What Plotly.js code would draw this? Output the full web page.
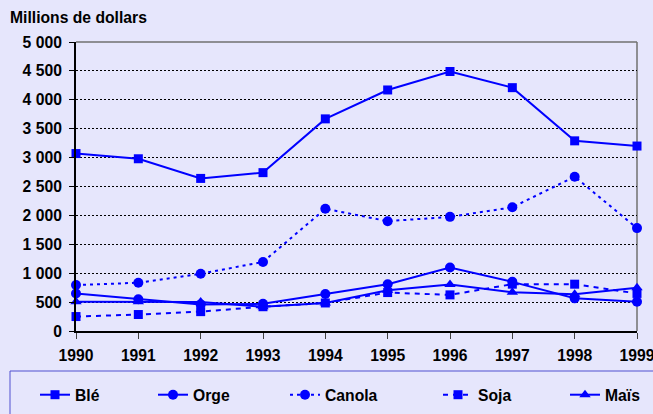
<!DOCTYPE html>
<html>
<head>
<meta charset="utf-8">
<script src="https://cdn.plot.ly/plotly-3.0.1.min.js"></script>
<style>html,body{margin:0;padding:0;background:#e6e6fc;overflow:hidden;width:653px;height:414px;}#chart{width:690px;height:414px;}</style>
</head>
<body>
<div id="chart"></div>
<script>
const years = [1990, 1991, 1992, 1993, 1994, 1995, 1996, 1997, 1998, 1999];
const ble    = [3070, 2980, 2640, 2740, 3670, 4170, 4490, 4210, 3290, 3200];
const orge   = [650, 550, 460, 470, 640, 810, 1100, 850, 565, 505];
const canola = [795, 835, 990, 1195, 2115, 1900, 1975, 2140, 2670, 1780];
const soja   = [250, 285, 335, 420, 485, 665, 625, 810, 810, 650];
const mais   = [505, 505, 500, 420, 485, 705, 805, 670, 635, 750];
const yTickVals = [0, 500, 1000, 1500, 2000, 2500, 3000, 3500, 4000, 4500, 5000];
const yTickText = ["0", "500", "1 000", "1 500", "2 000", "2 500", "3 000", "3 500", "4 000", "4 500", "5 000"];
const seriesNames = ["Blé", "Orge", "Canola", "Soja", "Maïs"];

const BLUE = "#0000ff";
const FONT = "Liberation Sans, Arial, sans-serif";

function tr(name, y, symbol, dash, size, legend) {
  return {
    x: years, y: y, name: name, type: "scatter", mode: "lines+markers",
    line: {color: BLUE, width: 2, dash: dash},
    marker: {color: BLUE, symbol: symbol, size: size},
    cliponaxis: false, legend: legend
  };
}
const data = [
  tr(seriesNames[0], ble, "square", "solid", 9, "legend2"),
  tr(seriesNames[1], orge, "circle", "solid", 10, "legend3"),
  tr(seriesNames[2], canola, "circle", "3px,4px", 10, "legend4"),
  tr(seriesNames[3], soja, "square", "5px,5px", 9, "legend5"),
  tr(seriesNames[4], mais, "triangle-up", "solid", 10, "legend6")
];

const FW = 690;
const W = 561, H = 289, L = 76, T = 42;
function px2x(p) { return (p - L) / W; }
function py2y(p) { return (T + H - p) / H; }
function leg(textX) {
  return {x: px2x(textX - 42), xanchor: "left", y: py2y(395), yanchor: "middle",
    orientation: "h", bgcolor: "rgba(0,0,0,0)", borderwidth: 0,
    font: {family: FONT, size: 15.7, color: "#000", weight: "bold"}};
}
const TF = {family: FONT, size: 15.7, color: "#000", weight: "bold"};

const layout = {
  width: FW, height: 414,
  margin: {l: L, r: FW - L - W, t: T, b: 414 - T - H, autoexpand: false},
  paper_bgcolor: "#e6e6fc", plot_bgcolor: "#e6e6fc",
  font: {family: FONT, size: 15, color: "#000"},
  title: {text: "Millions de dollars", xref: "container", yref: "container",
    x: 10 / FW, xanchor: "left", y: 1 - 18 / 414, yanchor: "middle", font: TF},
  xaxis: {range: [1990, 1999], tickvals: years, ticktext: years.map(String),
    ticks: "outside", ticklen: 6, tickcolor: "#404040", tickwidth: 1,
    ticklabelstandoff: 3,
    showline: true, linecolor: "#000", linewidth: 2, showgrid: false, zeroline: false,
    tickfont: TF},
  yaxis: {range: [0, 5000], tickvals: yTickVals, ticktext: yTickText,
    ticks: "outside", ticklen: 5, tickcolor: "#000", tickwidth: 1,
    ticklabelstandoff: 4,
    showline: true, linecolor: "#000", linewidth: 2,
    showgrid: true, gridcolor: "#000", gridwidth: 1, griddash: "2px,2px", zeroline: false,
    tickfont: TF},
  showlegend: true,
  legend2: leg(77), legend3: leg(195), legend4: leg(327), legend5: leg(480), legend6: leg(607),
  shapes: [
    {type: "line", xref: "paper", yref: "paper", x0: 0, x1: 1, y0: 1, y1: 1,
      line: {color: "#707070", width: 1.5}, layer: "between"},
    {type: "line", xref: "paper", yref: "paper", x0: 1, x1: 1, y0: 0, y1: 1,
      line: {color: "#707070", width: 1.5}, layer: "between"},
    {type: "rect", xref: "paper", yref: "paper", x0: px2x(10), x1: px2x(685),
      y0: py2y(371), y1: py2y(430), line: {color: "#5050d0", width: 1},
      fillcolor: "rgba(0,0,0,0)", layer: "below"}
  ]
};
Plotly.newPlot("chart", data, layout, {displayModeBar: false, staticPlot: true});
</script>
</body>
</html>
